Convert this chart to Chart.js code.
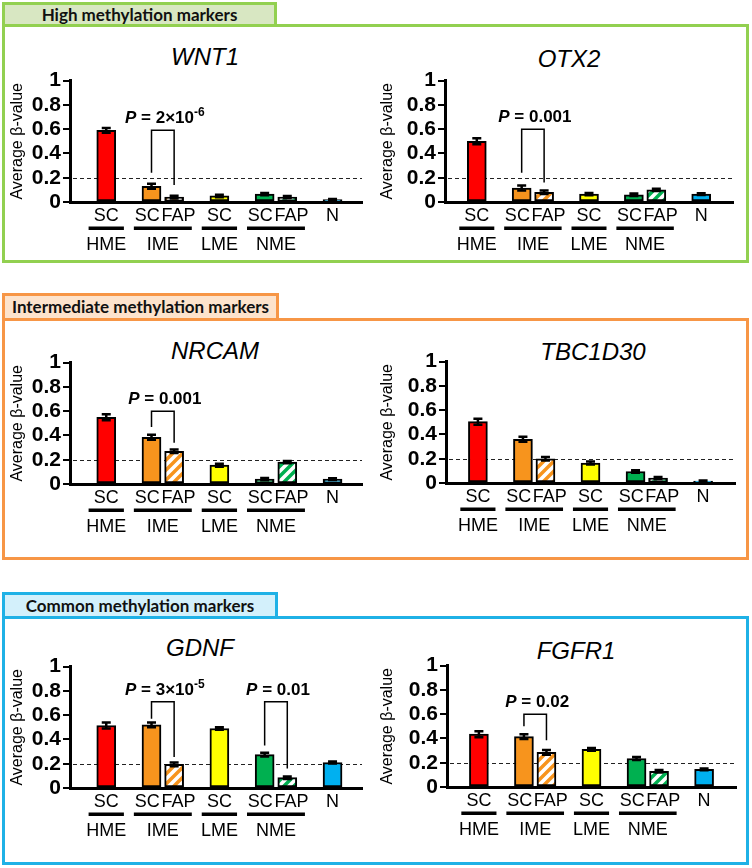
<!DOCTYPE html>
<html><head><meta charset="utf-8">
<script src="https://cdn.jsdelivr.net/npm/chart.js@4.4.1/dist/chart.umd.min.js"></script>
<style>
body{margin:0;width:752px;height:868px;position:relative;background:#fff;overflow:hidden;font-family:'Liberation Sans',Arial,sans-serif;}
.box{position:absolute;box-sizing:border-box;border:3px solid;}
.tab{position:absolute;box-sizing:border-box;border:3px solid;font-family:Lato,'Open Sans',sans-serif;font-weight:bold;font-size:17px;color:#111;text-align:center;}
.title{position:absolute;font-style:italic;font-size:24px;line-height:28px;transform:translateX(-50%);white-space:nowrap;color:#000;}
canvas{position:absolute;}
</style></head>
<body>
<div class="box" style="left:2px;top:24px;width:747px;height:239px;border-color:#92d050;"></div>
<div class="tab" style="left:2px;top:2px;width:275px;height:25px;line-height:19px;border-color:#92d050;background:#d8e7c2;">High methylation markers</div>
<div class="box" style="left:2px;top:318px;width:747px;height:242px;border-color:#f79646;"></div>
<div class="tab" style="left:2px;top:293px;width:277px;height:28px;line-height:22px;border-color:#f79646;background:#fde3cc;">Intermediate methylation markers</div>
<div class="box" style="left:2px;top:616px;width:747px;height:249px;border-color:#1fb1e6;"></div>
<div class="tab" style="left:2px;top:592px;width:276px;height:27px;line-height:21px;border-color:#1fb1e6;background:#d3f0fb;">Common methylation markers</div>

<div class="title" style="left:205px;top:43px;">WNT1</div>
<div class="title" style="left:569px;top:45px;">OTX2</div>
<div class="title" style="left:215px;top:337px;">NRCAM</div>
<div class="title" style="left:593px;top:338px;">TBC1D30</div>
<div class="title" style="left:200px;top:634px;">GDNF</div>
<div class="title" style="left:576px;top:637px;">FGFR1</div>

<canvas id="c1" width="364" height="194" style="left:8px;top:66px;"></canvas>
<canvas id="c2" width="365" height="194" style="left:378px;top:66px;"></canvas>
<canvas id="c3" width="364" height="194" style="left:8px;top:348px;"></canvas>
<canvas id="c4" width="367" height="194" style="left:378px;top:347px;"></canvas>
<canvas id="c5" width="364" height="194" style="left:8px;top:652px;"></canvas>
<canvas id="c6" width="368" height="194" style="left:378px;top:651px;"></canvas>

<script>
// ---- data ----
const categories = ['HME SC','IME SC','IME FAP','LME SC','NME SC','NME FAP','N'];
const xPositions = [0, 2, 3, 5, 7, 8, 10];
const tickLabels = ['SC','SC','FAP','SC','SC','FAP','N'];
const groupLabels = ['HME','IME','LME','NME'];
const groupMembers = [[0],[1,2],[3],[4,5]];
const yTickLabels = ['0','0.2','0.4','0.6','0.8','1'];
const thresholdValue = 0.2;

const wnt1Values    = [0.59, 0.13, 0.04, 0.05, 0.065, 0.04, 0.02];
const wnt1Errors    = [0.02, 0.02, 0.012, 0.01, 0.01, 0.01, 0.005];
const otx2Values    = [0.50, 0.115, 0.08, 0.065, 0.06, 0.10, 0.065];
const otx2Errors    = [0.025, 0.02, 0.015, 0.01, 0.01, 0.01, 0.008];
const nrcamValues   = [0.55, 0.385, 0.27, 0.155, 0.04, 0.18, 0.04];
const nrcamErrors   = [0.025, 0.02, 0.015, 0.012, 0.01, 0.01, 0.008];
const tbc1d30Values = [0.505, 0.36, 0.20, 0.165, 0.095, 0.04, 0.015];
const tbc1d30Errors = [0.025, 0.02, 0.015, 0.012, 0.01, 0.01, 0.005];
const gdnfValues    = [0.515, 0.52, 0.195, 0.49, 0.275, 0.085, 0.21];
const gdnfErrors    = [0.025, 0.02, 0.015, 0.01, 0.015, 0.01, 0.008];
const fgfr1Values   = [0.435, 0.415, 0.285, 0.31, 0.235, 0.13, 0.145];
const fgfr1Errors   = [0.025, 0.02, 0.02, 0.012, 0.012, 0.01, 0.008];

const wnt1Brackets    = [{from:1, to:2, top:0.59, leftEnd:0.24, rightEnd:0.14, p:'2×10', sup:'-6'}];
const otx2Brackets    = [{from:1, to:2, top:0.60, leftEnd:0.24, rightEnd:0.16, p:'0.001', sup:''}];
const nrcamBrackets   = [{from:1, to:2, top:0.60, leftEnd:0.47, rightEnd:0.34, p:'0.001', sup:''}];
const tbc1d30Brackets = [];
const gdnfBrackets    = [{from:1, to:2, top:0.71, leftEnd:0.57, rightEnd:0.255, p:'3×10', sup:'-5'},
                         {from:4, to:5, top:0.71, leftEnd:0.35, rightEnd:0.16, p:'0.01', sup:''}];
const fgfr1Brackets   = [{from:1, to:2, top:0.60, leftEnd:0.50, rightEnd:0.385, p:'0.02', sup:''}];

// ---- styles ----
function hatch(color){
  const c = document.createElement('canvas'); c.width = 10; c.height = 10;
  const g = c.getContext('2d');
  g.fillStyle = '#fff'; g.fillRect(0,0,10,10);
  g.strokeStyle = color; g.lineWidth = 3.5;
  g.beginPath();
  g.moveTo(-5,5); g.lineTo(5,-5);
  g.moveTo(0,10); g.lineTo(10,0);
  g.moveTo(5,15); g.lineTo(15,5);
  g.stroke();
  return g.createPattern(c,'repeat');
}
const barColors = ['#ff0000','#f7941d', hatch('#f7941d'), '#ffff00', '#00b050', hatch('#00b050'), '#00b0f0'];

function overlay(values, errors, brackets){
  return {
    id:'overlay',
    beforeDatasetsDraw(chart){
      const {ctx, chartArea, scales:{y}} = chart;
      const py = Math.round(y.getPixelForValue(thresholdValue)) + 0.5;
      ctx.save(); ctx.setLineDash([4,3]); ctx.lineWidth = 1; ctx.strokeStyle = '#222';
      ctx.beginPath(); ctx.moveTo(chartArea.left + 3, py); ctx.lineTo(chartArea.right, py); ctx.stroke();
      ctx.restore();
    },
    afterDatasetsDraw(chart){
      const {ctx, scales:{x, y}} = chart;
      const meta = chart.getDatasetMeta(0);
      ctx.save();
      ctx.strokeStyle = '#000';
      values.forEach((v,i)=>{
        const px = meta.data[i].x;
        const yt = y.getPixelForValue(v + errors[i]);
        const yb = y.getPixelForValue(Math.max(0, v - errors[i]));
        ctx.lineWidth = 2.5;
        ctx.beginPath(); ctx.moveTo(px, yt); ctx.lineTo(px, yb); ctx.stroke();
        ctx.beginPath(); ctx.moveTo(px-4.5, yt); ctx.lineTo(px+4.5, yt);
        ctx.moveTo(px-4.5, yb); ctx.lineTo(px+4.5, yb); ctx.stroke();
      });
      brackets.forEach(b=>{
        const x1 = x.getPixelForValue(xPositions[b.from]);
        const x2 = x.getPixelForValue(xPositions[b.to]);
        const yTop = y.getPixelForValue(b.top);
        ctx.lineWidth = 1.5;
        ctx.beginPath();
        ctx.moveTo(x1, y.getPixelForValue(b.leftEnd));
        ctx.lineTo(x1, yTop); ctx.lineTo(x2, yTop);
        ctx.lineTo(x2, y.getPixelForValue(b.rightEnd));
        ctx.stroke();
        const fP = "italic bold 17px 'Liberation Sans', Arial, sans-serif";
        const fT = "bold 17px 'Liberation Sans', Arial, sans-serif";
        const fS = "bold 12px 'Liberation Sans', Arial, sans-serif";
        const parts = [[ 'P', fP, 0 ], [' = ' + b.p, fT, 0]];
        if (b.sup) parts.push([b.sup, fS, -7]);
        let w = 0;
        parts.forEach(p=>{ ctx.font = p[1]; p.push(ctx.measureText(p[0]).width); w += p[3]; });
        let cx = (x1 + x2)/2 - w/2 + 2;
        const by = yTop - 7;
        ctx.fillStyle = '#000'; ctx.textBaseline = 'alphabetic'; ctx.textAlign = 'left';
        parts.forEach(p=>{ ctx.font = p[1]; ctx.fillText(p[0], cx, by + p[2]); cx += p[3]; });
      });
      ctx.restore();
    },
    afterDraw(chart){
      const {ctx, scales:{x, y}} = chart;
      const zero = y.getPixelForValue(0);
      ctx.save();
      ctx.fillStyle = '#000';
      ctx.font = "18px 'Liberation Sans', Arial, sans-serif";
      ctx.textAlign = 'center'; ctx.textBaseline = 'middle';
      groupMembers.forEach((m,gi)=>{
        const a = x.getPixelForValue(xPositions[m[0]] - 0.78);
        const b = x.getPixelForValue(xPositions[m[m.length-1]] + 0.78);
        ctx.fillRect(a, zero + 24.5, b - a, 3.5);
        const c = x.getPixelForValue((xPositions[m[0]] + xPositions[m[m.length-1]])/2);
        ctx.fillText(groupLabels[gi], c, zero + 43);
      });
      ctx.restore();
    }
  };
}

function makeChart(id, values, errors, brackets, xMin, xMax, yw){
  const data = values.map((v,i)=>({x:xPositions[i], y:v}));
  new Chart(document.getElementById(id), {
    type:'bar',
    data:{ datasets:[{ label:'β', data, backgroundColor:barColors, borderColor:'#000',
      borderWidth:2, borderSkipped:false, barThickness:19 }]},
    options:{
      responsive:false, animation:false, devicePixelRatio:1,
      layout:{ padding:{ top:14, right:10, left:0, bottom:0 } },
      plugins:{ legend:{display:false}, tooltip:{enabled:false}, title:{display:false} },
      scales:{
        x:{ type:'linear', min:xMin, max:xMax,
          afterBuildTicks:(s)=>{ s.ticks = xPositions.map(v=>({value:v})); },
          afterFit:(s)=>{ s.height = 58; },
          ticks:{ autoSkip:false, maxRotation:0, padding:3, color:'#000',
            font:{ family:"'Liberation Sans', Arial, sans-serif", size:18 },
            callback:(v)=>{
              const i = xPositions.indexOf(v);
              if (i < 0) return '';
              const t = tickLabels[i];
              if (xPositions.includes(v+1)) return t + ' \u2009';
              if (xPositions.includes(v-1)) return '\u2009 ' + t;
              return t;
            } },
          grid:{ display:false, drawTicks:false },
          border:{ display:true, color:'#000', width:3 }
        },
        y:{ min:0, max:1,
          afterFit:(s)=>{ s.width = yw; },
          ticks:{ stepSize:0.2, autoSkip:false, padding:2, color:'#000',
            font:{ family:"'Liberation Sans', Arial, sans-serif", size:21, weight:'bold' },
            callback:(v)=> yTickLabels[Math.round(v/0.2)] },
          grid:{ display:true, drawOnChartArea:false, drawTicks:true, tickLength:7, color:'#000', lineWidth:2 },
          border:{ display:true, color:'#000', width:3 },
          title:{ display:true, text:'Average β-value', color:'#000', padding:0,
            font:{ family:"'Liberation Sans', Arial, sans-serif", size:16 } }
        }
      }
    },
    plugins:[ overlay(values, errors, brackets) ]
  });
}

makeChart('c1', wnt1Values, wnt1Errors, wnt1Brackets, -0.68, 10.38, 62);
makeChart('c2', otx2Values, otx2Errors, otx2Brackets, -0.5, 10.5, 67);
makeChart('c3', nrcamValues, nrcamErrors, nrcamBrackets, -0.68, 10.38, 62);
makeChart('c4', tbc1d30Values, tbc1d30Errors, tbc1d30Brackets, -0.5, 10.5, 68);
makeChart('c5', gdnfValues, gdnfErrors, gdnfBrackets, -0.68, 10.38, 62);
makeChart('c6', fgfr1Values, fgfr1Errors, fgfr1Brackets, -0.5, 10.5, 69);
</script>
</body></html>
